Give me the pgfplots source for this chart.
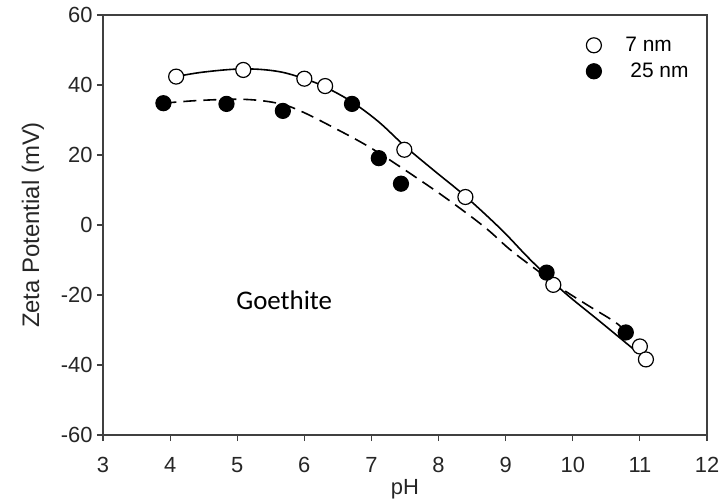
\documentclass[border=0pt]{standalone}
\usepackage{fontspec}
\setmainfont{Liberation Sans}
\newfontfamily\calfont{Carlito}
\usepackage{pgfplots}
\pgfplotsset{compat=1.18}
\usetikzlibrary{calc}

\definecolor{axgray}{HTML}{404040}

% measured from the reference: open = 7 nm, filled = 25 nm
\pgfplotstableread{
x y
4.09 42.4
5.09 44.3
6.00 41.8
6.31 39.7
7.49 21.5
8.40 8.0
9.71 -17.1
11.00 -34.7
11.09 -38.4
}\sevennm
\pgfplotstableread{
x y
3.90 34.8
4.84 34.6
5.68 32.6
6.71 34.6
7.11 19.1
7.44 11.8
9.61 -13.6
10.79 -30.7
}\twentyfivenm

\begin{document}
\begin{tikzpicture}
\begin{axis}[
  name=ax,
  scale only axis,
  width=604bp,height=420bp,
  xmin=3,xmax=12,ymin=-60,ymax=60,
  xtick={3,4,...,12},ytick={-60,-40,...,60},
  tick align=outside,xtick pos=left,ytick pos=left,
  major tick length=6bp,
  tick style={axgray,line width=1.2bp},
  axis line style={axgray,line width=1.4bp},
  tick label style={font=\fontsize{22}{24}\selectfont,text=black!85},
  xticklabel style={yshift=-13bp},
  yticklabel style={xshift=-1bp},
  /pgf/number format/assume math mode=true,
  xlabel={pH},ylabel={Zeta Potential (mV)},
  label style={font=\fontsize{22}{24}\selectfont,text=black!85},
  ylabel style={font=\fontsize{24}{26}\selectfont},
  xlabel style={at={(axis description cs:0.5,-0.1286)},anchor=center},
  ylabel style={at={(axis description cs:-0.116,0.5)},anchor=center},
  legend style={draw=none,fill=none,at={(axis description cs:0.80,0.952)},anchor=north west,
    font=\fontsize{21}{23}\selectfont,row sep=6bp,inner sep=0pt},
  legend cell align=left,
  clip=false,
]
% fitted curves
\addplot[black,line width=1.6bp,smooth,tension=0.6,forget plot] coordinates {
(4.09,42.4) (4.5,43.7) (5.09,44.6) (5.6,43.9) (6.0,41.8) (6.3,39.5) (6.69,35.4)
(7.1,29.6) (7.5,22.5) (7.93,15.6) (8.4,8.2) (8.93,-1.2) (9.32,-9.0) (9.65,-15.2)
(9.92,-20.0) (10.42,-27.8) (10.92,-35.7)};
\addplot[black,line width=1.6bp,smooth,tension=0.6,dash pattern=on 13bp off 7bp,forget plot] coordinates {
(3.9,34.8) (4.45,35.6) (5.1,35.9) (5.6,34.8) (5.94,32.6) (6.43,27.9) (6.94,22.6)
(7.43,16.6) (8.08,8.1) (8.68,-0.5) (9.07,-7.1) (9.5,-13.4) (9.82,-18.0)
(10.22,-22.9) (10.62,-27.6) (10.79,-30.4)};
% data points
\addplot[only marks,mark=*,mark size=7.5bp,mark options={fill=white,draw=black,line width=1.2bp}]
  table[x=x,y=y] {\sevennm};
\addlegendentry{\hspace{22bp}7 nm}
\addplot[only marks,mark=*,mark size=7.5bp,mark options={fill=black,draw=black,line width=1.2bp}]
  table[x=x,y=y] {\twentyfivenm};
\addlegendentry{\hspace{27bp}25 nm}
\node[font=\calfont\fontsize{27}{30}\selectfont,anchor=center] at (axis cs:5.7,-21.4) {Goethite};
\end{axis}
\pgfresetboundingbox
\path ($(ax.south west)+(-103bp,-68bp)$) rectangle ($(ax.north east)+(20bp,15bp)$);
\end{tikzpicture}
\end{document}
